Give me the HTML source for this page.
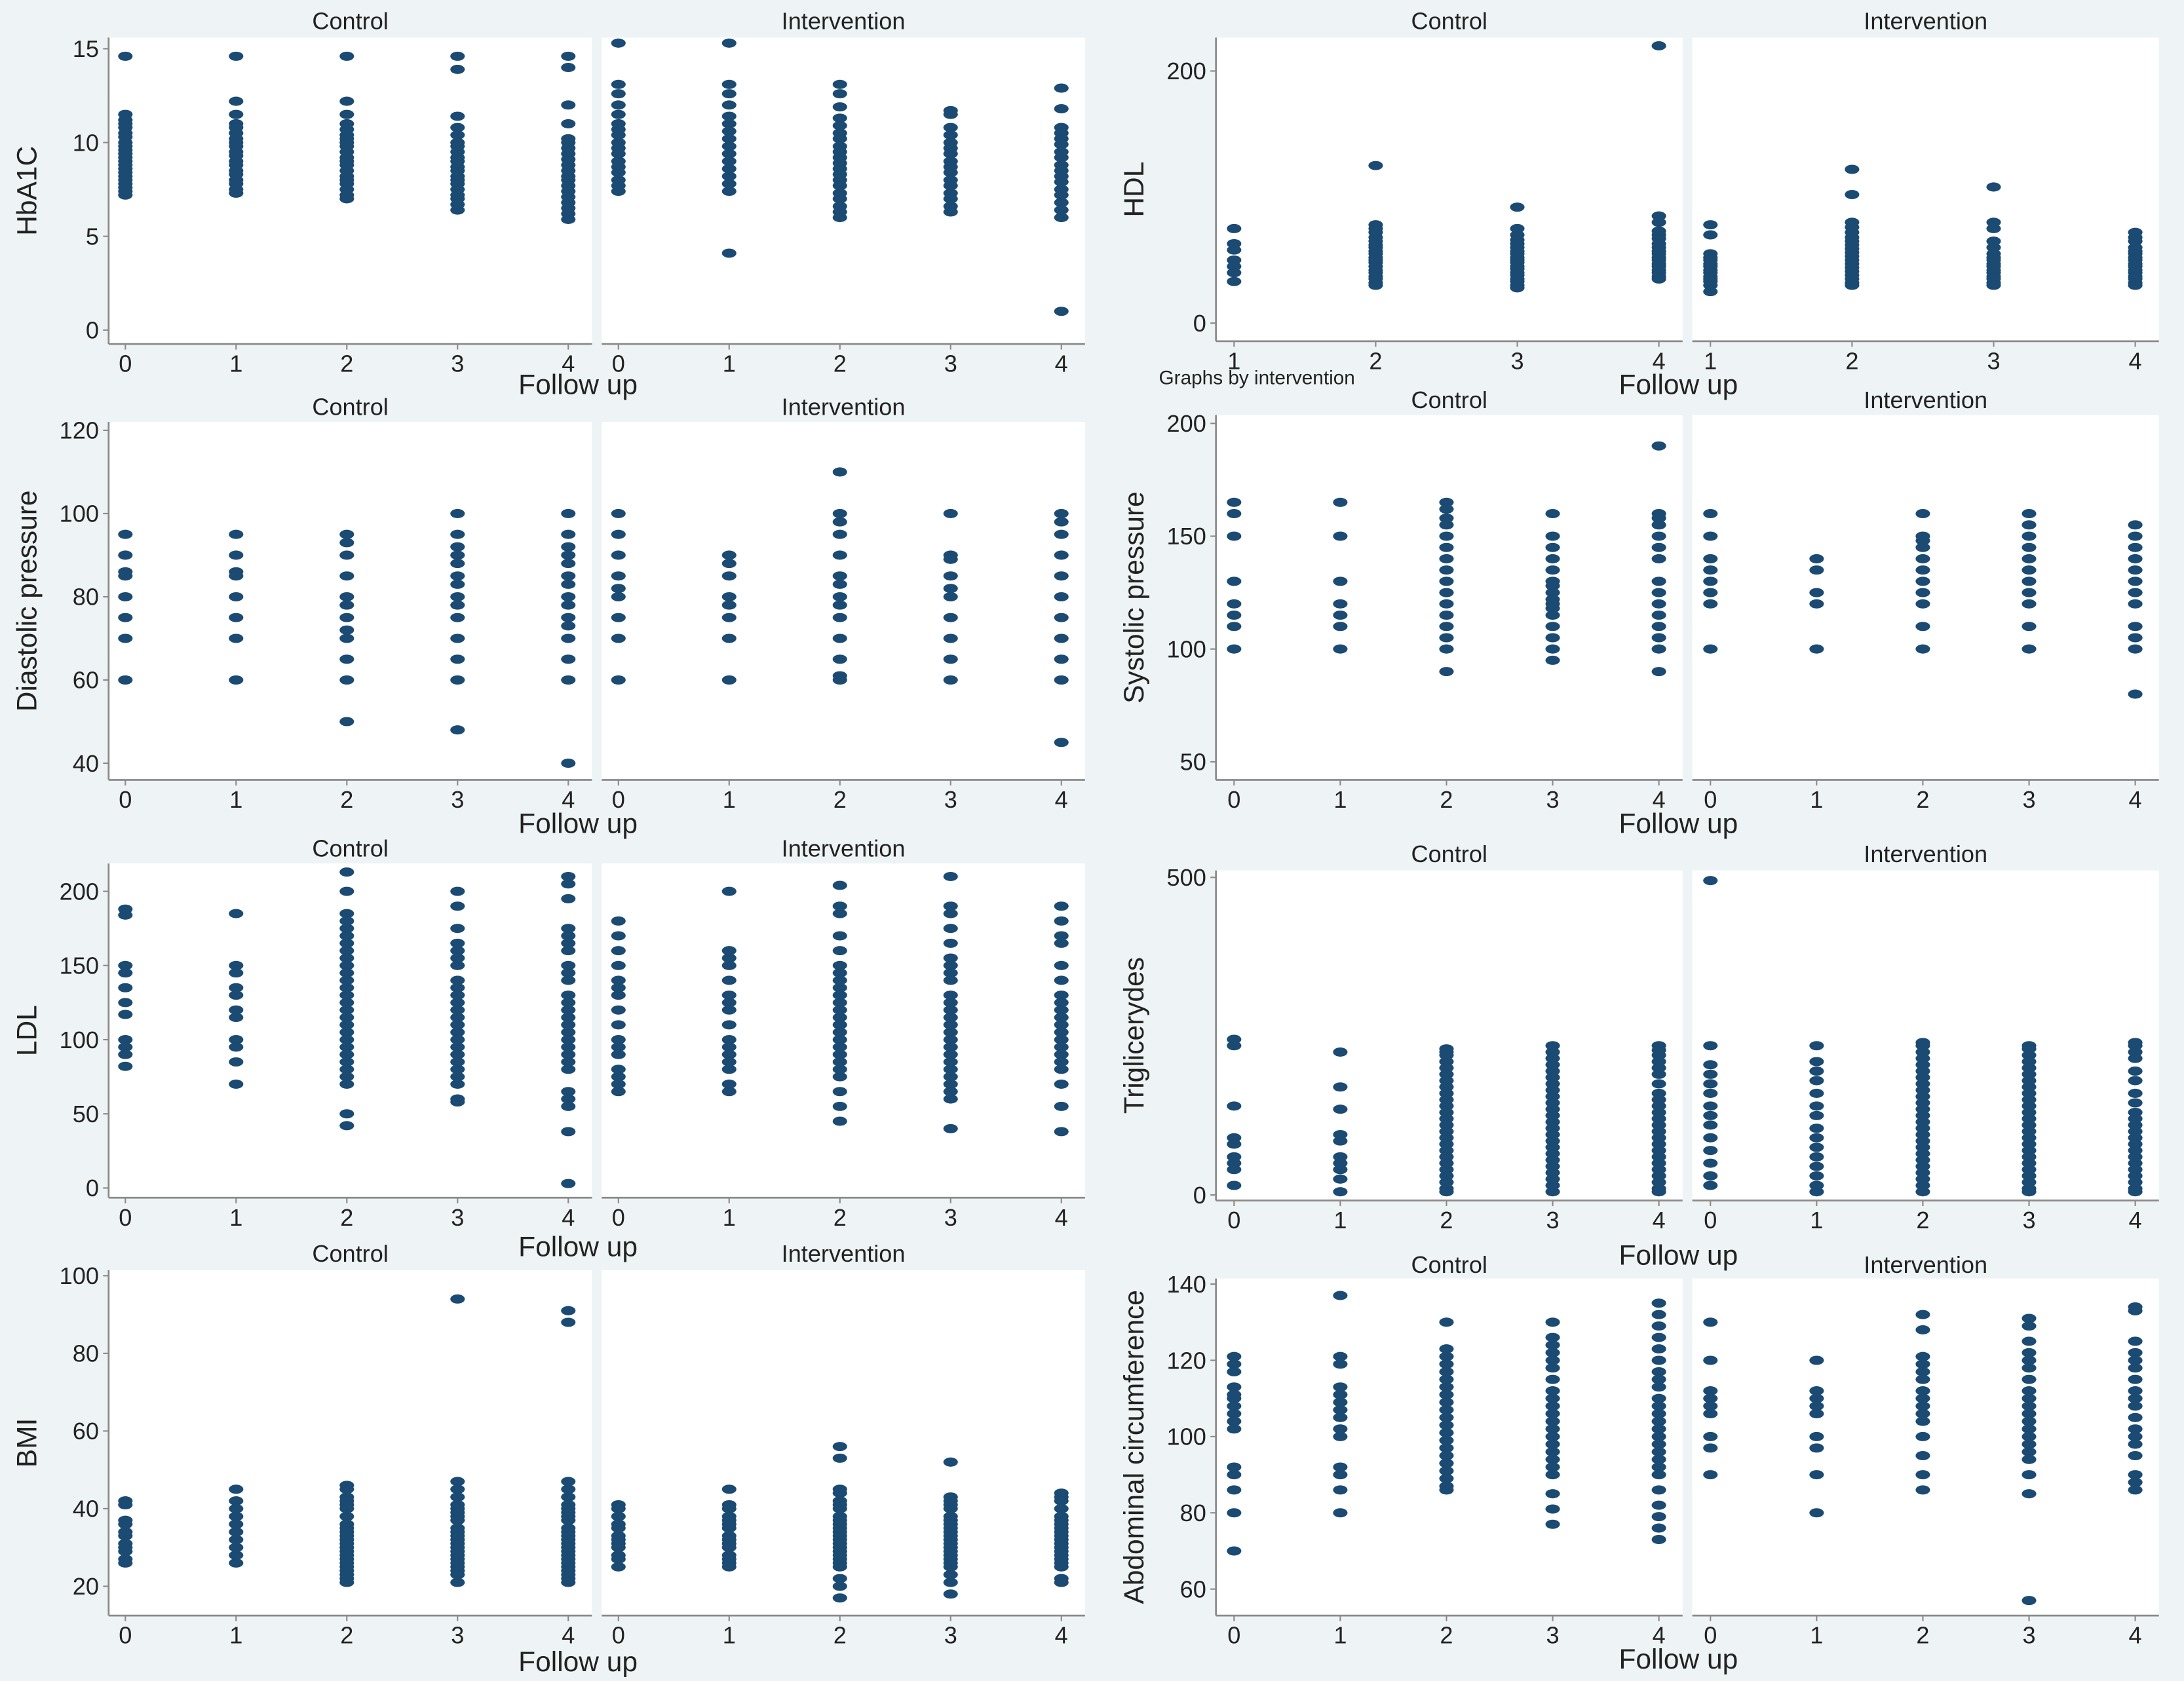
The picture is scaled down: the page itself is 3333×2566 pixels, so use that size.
<!DOCTYPE html>
<html><head><meta charset="utf-8">
<style>
html,body{margin:0;padding:0;background:#eef4f6;}
svg{display:block;font-family:"Liberation Sans",Arial,sans-serif;}
</style></head>
<body>
<svg id="chart" width="3333" height="2566" viewBox="0 0 1568 1207" preserveAspectRatio="none" xmlns="http://www.w3.org/2000/svg">
<rect x="0" y="0" width="1568" height="1207" fill="#eef4f6"/>
<text x="832" y="276" font-size="14" fill="#222">Graphs by intervention</text>
</svg>
<script>
// ---- data arrays (values per follow-up category) ----
const hba1cControl=[[14.6,11.5,11.2,11,10.8,10.5,10.3,10,9.8,9.6,9.4,9.2,9,8.8,8.6,8.4,8.2,8,7.8,7.6,7.4,7.2],[14.6,12.2,11.5,11,10.8,10.5,10.2,10,9.8,9.5,9.3,9,8.8,8.5,8.3,8,7.8,7.5,7.3],[14.6,12.2,11.5,11,10.7,10.4,10.2,10,9.8,9.5,9.2,9,8.8,8.5,8.2,8,7.8,7.5,7.2,7],[14.6,13.9,11.4,10.8,10.4,10,9.8,9.5,9.2,9,8.7,8.5,8.2,8,7.8,7.5,7.2,7,6.7,6.4],[14.6,14,12,11,10.2,10,9.7,9.4,9.1,8.8,8.5,8.2,8,7.7,7.4,7.1,6.8,6.5,6.2,5.9]];
const hba1cIntervention=[[15.3,13.1,12.6,12,11.5,11,10.7,10.4,10,9.7,9.4,9,8.7,8.4,8,7.7,7.4],[15.3,13.1,12.6,12,11.4,11,10.6,10.2,9.8,9.4,9,8.6,8.2,7.8,7.4,4.1],[13.1,12.6,11.9,11.3,10.9,10.5,10.2,9.8,9.5,9.2,8.9,8.6,8.3,8,7.7,7.3,7,6.6,6.3,6],[11.7,11.5,10.8,10.4,10,9.7,9.4,9,8.7,8.4,8,7.7,7.3,7,6.6,6.3],[12.9,11.8,10.8,10.5,10.2,9.9,9.5,9.2,8.8,8.5,8.2,7.9,7.5,7.2,6.8,6.4,6,1]];
const hdlControl=[[75,63,58,50,45,40,33],[125,78,75,72,68,65,62,60,57,55,52,50,48,45,42,40,37,35,32,30],[92,75,70,66,63,60,57,55,52,50,48,45,43,40,38,35,33,30,28],[220,85,80,73,70,67,63,60,57,55,52,50,47,45,42,40,37,35]];
const hdlIntervention=[[78,70,55,52,50,47,45,42,40,37,35,33,30,25],[122,102,80,76,72,68,65,62,59,56,53,50,47,44,41,38,35,32,30],[108,80,75,65,60,55,52,50,47,45,42,40,37,35,32,30],[72,68,65,60,57,55,52,50,47,45,42,40,37,35,32,30]];
const diaControl=[[95,90,86,85,80,75,70,60],[95,90,86,85,80,75,70,60],[95,93,90,85,80,78,75,72,70,65,60,50],[100,95,92,90,88,85,83,80,78,75,70,65,60,48],[100,95,92,90,88,85,83,80,78,75,73,70,65,60,40]];
const diaIntervention=[[100,95,90,85,82,80,75,70,60],[90,88,85,80,78,75,70,60],[110,100,98,95,90,85,83,80,78,75,70,65,61,60],[100,90,89,85,82,80,75,70,65,60],[100,98,95,90,85,80,75,70,65,60,45]];
const sysControl=[[165,160,150,130,120,115,110,100],[165,150,130,120,115,110,100],[165,162,158,155,150,145,140,135,130,125,120,115,110,105,100,90],[160,150,145,140,135,130,128,125,122,120,118,115,110,105,100,95],[190,160,158,155,150,145,140,130,125,120,115,110,105,100,90]];
const sysIntervention=[[160,150,140,135,130,125,120,100],[140,135,125,120,100],[160,150,148,145,140,135,130,125,120,110,100],[160,155,150,145,140,135,130,125,120,110,100],[155,150,145,140,135,130,125,120,110,105,100,80]];
const ldlControl=[[188,184,150,145,135,125,117,100,95,90,82],[185,150,145,135,130,120,115,100,95,85,70],[213,200,185,180,175,170,165,160,155,150,145,140,135,130,125,120,115,110,105,100,95,90,85,80,75,70,50,42],[200,190,175,165,160,155,150,140,135,130,125,120,115,110,105,100,95,90,85,80,75,70,60,58],[210,205,195,175,170,165,160,150,145,140,130,125,120,115,110,105,100,95,90,85,80,65,60,55,38,3]];
const ldlIntervention=[[180,170,160,150,140,135,130,120,110,100,95,90,80,75,70,65],[200,160,155,150,140,130,125,120,110,100,95,90,85,80,70,65],[204,190,185,170,160,150,145,140,135,130,125,120,115,110,105,100,95,90,85,80,75,65,55,45],[210,190,185,175,165,155,150,145,140,130,125,120,115,110,105,100,95,90,85,80,75,70,65,60,40],[190,180,170,165,150,140,130,125,120,115,110,105,100,95,90,85,80,70,55,38]];
const trigControl=[[245,235,140,90,80,60,50,40,15],[225,170,135,95,85,60,50,40,25,5],[230,225,220,210,200,190,180,170,160,150,140,130,120,110,100,90,80,70,60,50,40,30,20,10,5],[235,225,215,205,195,185,175,165,155,145,135,125,115,105,95,85,75,65,55,45,35,25,15,5],[235,228,220,210,200,190,175,160,150,140,130,120,110,100,90,80,70,60,50,40,30,20,10,5]];
const trigIntervention=[[495,235,205,190,175,160,140,125,110,90,70,50,30,15],[235,210,195,180,160,140,125,105,90,75,60,45,30,15,5],[240,235,225,215,205,195,185,175,165,155,145,135,125,115,105,95,85,75,65,55,45,35,25,15,5],[235,230,220,210,200,190,180,170,160,150,140,130,120,110,100,90,80,70,60,50,40,30,20,10,5],[240,235,225,215,195,180,160,145,130,120,110,100,90,80,70,60,50,40,30,20,10,5]];
const bmiControl=[[42,41,37,36,34,33,31,30,29,27,26],[45,42,40,38,36,34,32,30,28,26],[46,45,43,42,41,40,38,36,35,34,33,32,31,30,29,28,27,26,25,24,23,22,21],[94,47,45,43,41,40,39,38,37,35,34,33,32,31,30,29,28,27,26,25,24,23,21],[91,88,47,45,43,41,40,39,38,37,35,34,33,32,31,30,29,28,27,26,25,24,23,22,21]];
const bmiIntervention=[[41,40,38,36,35,33,32,31,30,28,27,25],[45,41,40,38,37,36,35,33,32,31,30,28,27,26,25],[56,53,45,44,42,41,40,38,37,36,35,34,33,32,31,30,29,28,27,26,25,22,20,17],[52,43,42,41,40,38,37,36,35,34,33,32,31,30,29,28,27,26,25,23,21,18],[44,43,42,40,38,37,36,35,34,33,32,31,30,29,28,27,26,25,22,21]];
const abdControl=[[121,119,117,113,111,110,108,106,104,102,92,90,86,80,70],[137,121,119,113,111,109,107,105,102,100,92,90,86,80],[130,123,121,119,117,115,113,111,109,107,105,103,101,99,97,95,93,91,89,87,86],[130,126,124,122,120,118,115,112,110,108,106,104,102,100,98,96,94,92,90,85,81,77],[135,132,129,126,123,120,117,115,113,110,108,106,104,102,100,98,96,94,92,90,86,82,79,76,73]];
const abdIntervention=[[130,120,112,110,108,106,100,97,90],[120,112,110,108,106,100,97,90,80],[132,128,121,119,117,115,112,110,108,106,104,100,95,90,86],[131,129,125,122,120,118,115,112,110,108,106,104,102,100,98,96,94,90,85,57],[134,133,125,122,120,118,115,112,110,108,105,102,100,98,95,90,88,86]];
const cats04=[0,1,2,3,4];
const cats14=[1,2,3,4];
const hba1cTicks=[0,5,10,15];
const hdlTicks=[0,200];
const diaTicks=[40,60,80,100,120];
const sysTicks=[50,100,150,200];
const ldlTicks=[0,50,100,150,200];
const trigTicks=[0,500];
const bmiTicks=[20,40,60,80,100];
const abdTicks=[60,80,100,120,140];

// ---- layout ----
const NS="http://www.w3.org/2000/svg";
const svg=document.getElementById('chart');
function mk(tag,attrs){const e=document.createElementNS(NS,tag);for(const k in attrs)e.setAttribute(k,attrs[k]);svg.appendChild(e);return e;}
function txt(x,y,s,size,anchor,rot){const t=mk('text',{x:x,y:y,'font-size':size,'text-anchor':anchor||'middle',fill:'#222'});if(rot)t.setAttribute('transform','rotate(-90 '+x+' '+y+')');t.textContent=s;return t;}

const panels=[
 {key:'hba1c',label:'HbA1C',cats:cats04,ticks:hba1cTicks,data:[hba1cControl,hba1cIntervention],L:78,W:347,gap:7,top:27,bot:247,y0:0,y0px:237,y1:15,y1px:35,xpadL:12,xpadR:17,titleY:21,fuY:283,fuX:415,labX:26},
 {key:'hdl',label:'HDL',cats:cats14,ticks:hdlTicks,data:[hdlControl,hdlIntervention],L:873,W:335,gap:7,top:27,bot:245,y0:0,y0px:232,y1:200,y1px:51,xpadL:13,xpadR:17,titleY:21,fuY:283,fuX:1205,labX:821},
 {key:'diastolic',label:'Diastolic pressure',cats:cats04,ticks:diaTicks,data:[diaControl,diaIntervention],L:78,W:347,gap:7,top:303,bot:560,y0:40,y0px:548,y1:120,y1px:309,xpadL:12,xpadR:17,titleY:298,fuY:598,fuX:415,labX:26},
 {key:'systolic',label:'Systolic pressure',cats:cats04,ticks:sysTicks,data:[sysControl,sysIntervention],L:873,W:335,gap:7,top:298,bot:560,y0:50,y0px:547,y1:200,y1px:304,xpadL:13,xpadR:17,titleY:293,fuY:598,fuX:1205,labX:821},
 {key:'ldl',label:'LDL',cats:cats04,ticks:ldlTicks,data:[ldlControl,ldlIntervention],L:78,W:347,gap:7,top:620,bot:860,y0:0,y0px:853,y1:200,y1px:640,xpadL:12,xpadR:17,titleY:615,fuY:902,fuX:415,labX:26},
 {key:'triglycerides',label:'Triglicerydes',cats:cats04,ticks:trigTicks,data:[trigControl,trigIntervention],L:873,W:335,gap:7,top:625,bot:862,y0:0,y0px:858,y1:500,y1px:630,xpadL:13,xpadR:17,titleY:619,fuY:908,fuX:1205,labX:821},
 {key:'bmi',label:'BMI',cats:cats04,ticks:bmiTicks,data:[bmiControl,bmiIntervention],L:78,W:347,gap:7,top:912,bot:1160,y0:20,y0px:1139,y1:100,y1px:916,xpadL:12,xpadR:17,titleY:906,fuY:1200,fuX:415,labX:26},
 {key:'abdominal',label:'Abdominal circumference',cats:cats04,ticks:abdTicks,data:[abdControl,abdIntervention],L:873,W:335,gap:7,top:918,bot:1160,y0:60,y0px:1141,y1:140,y1px:922,xpadL:13,xpadR:17,titleY:914,fuY:1198,fuX:1205,labX:821}
];
const groups=['Control','Intervention'];

panels.forEach(p=>{
  const yScale=v=>p.y0px+(v-p.y0)*(p.y1px-p.y0px)/(p.y1-p.y0);
  for(let g=0;g<2;g++){
    const left=p.L+g*(p.W+p.gap), right=left+p.W;
    const xScale=c=>left+p.xpadL+(c-p.cats[0])*(p.W-p.xpadL-p.xpadR)/(p.cats[p.cats.length-1]-p.cats[0]);
    const box=mk('rect',{x:left,y:p.top,width:p.W,height:p.bot-p.top,fill:'#ffffff'});
    
    
    const t=txt((left+right)/2,p.titleY,groups[g],17);
    
    
    const xa=mk('line',{x1:left,y1:p.bot,x2:right,y2:p.bot,stroke:'#8a8a8a','stroke-width':1.3});
    
    
    p.cats.forEach(c=>{
      const x=xScale(c);
      mk('line',{x1:x,y1:p.bot,x2:x,y2:p.bot+4,stroke:'#8a8a8a','stroke-width':1});
      const tl=txt(x,p.bot+20,String(c),17);
      
      
    });
    if(g===0){
      const ya=mk('line',{x1:left,y1:p.top,x2:left,y2:p.bot,stroke:'#8a8a8a','stroke-width':1.3});
      
      
      p.ticks.forEach(v=>{
        const y=yScale(v);
        mk('line',{x1:left-4,y1:y,x2:left,y2:y,stroke:'#8a8a8a','stroke-width':1});
        const tl=txt(left-7,y+6,String(v),17,'end');
        
        
      });
    }
    const series=p.data[g];
    series.forEach((vals,i)=>{
      const cx=xScale(p.cats[i]);
      vals.forEach(v=>{
        const d=mk('ellipse',{cx:cx,cy:yScale(v),rx:5.2,ry:3.3,fill:'#1b4a73'});
        
        
      });
    });
  }
  const yl=txt(p.labX,(p.top+p.bot)/2,p.label,20,'middle',true);
  
  
  const fu=txt(p.fuX,p.fuY,'Follow up',20);
  
  
});
</script>
</body></html>
